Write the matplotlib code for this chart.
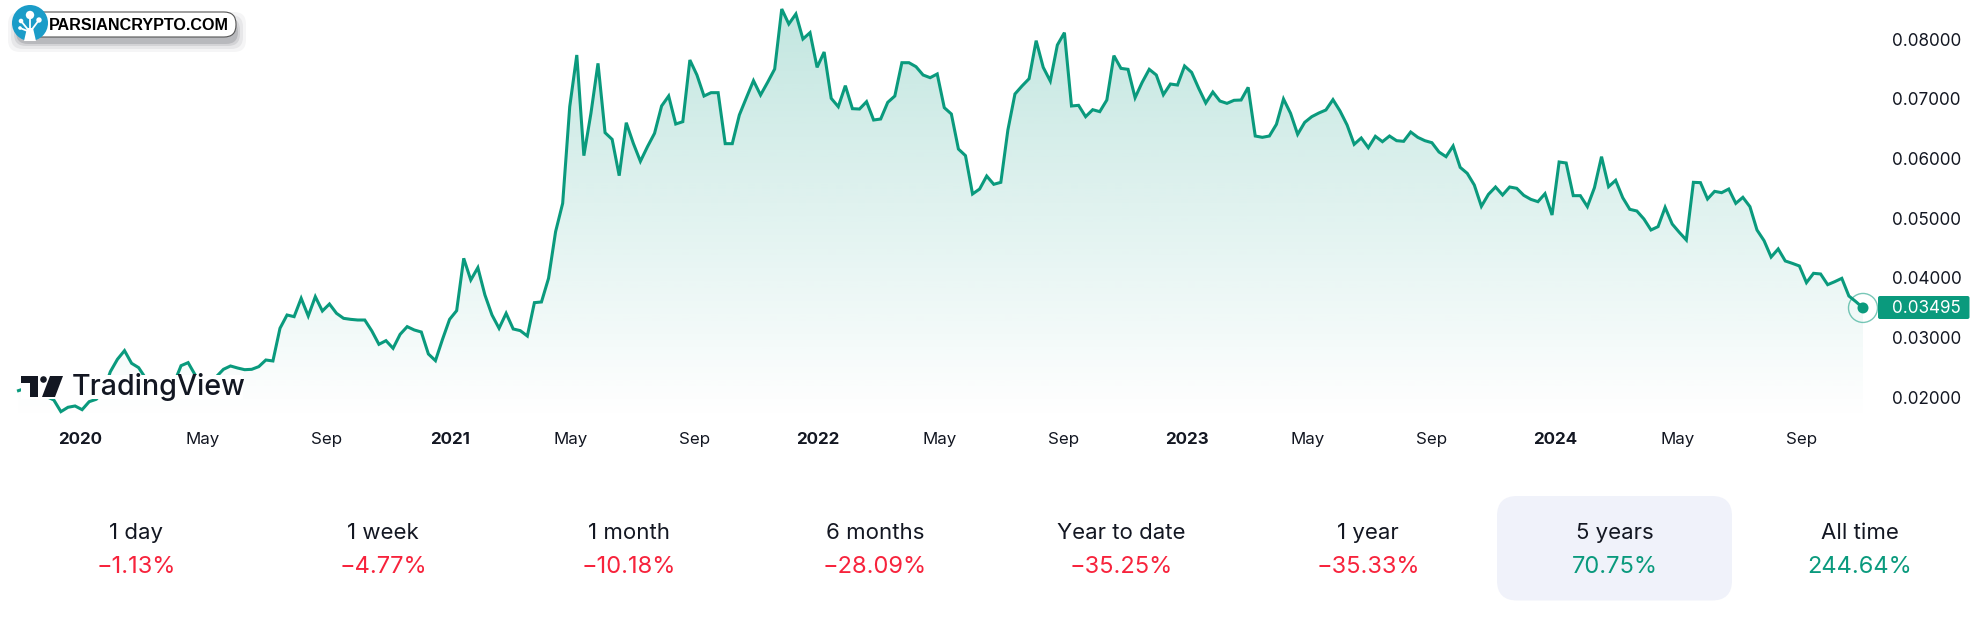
#!/usr/bin/env python3
"""Weekly price chart in the TradingView widget style, with a performance row."""

import numpy as np
import pandas as pd
import matplotlib
matplotlib.use("Agg")
import matplotlib.pyplot as plt
import matplotlib.dates as mdates
from matplotlib.patches import FancyBboxPatch, Circle, Polygon, Rectangle

plt.rcParams['font.family'] = ['Inter', 'DejaVu Sans']

# -----------------------------------------------------------------------------
# Data (units of 1e-5)
# -----------------------------------------------------------------------------
START_DATE = "2019-11-01"
PRICES = [
    2110, 2149, 2093, 2037, 2009, 1953, 1758, 1831, 1853, 1791, 1925, 1965, 2093, 2428, 2635, 2780,
    2568, 2495, 2316, 2149, 2093, 2037, 2233, 2528, 2579, 2372, 2177, 2121, 2344, 2467, 2523, 2489,
    2461, 2467, 2512, 2623, 2607, 3154, 3377, 3349, 3656, 3360, 3684, 3444, 3561, 3405, 3321, 3304,
    3293, 3293, 3109, 2886, 2947, 2819, 3053, 3182, 3126, 3092, 2724, 2612, 2970, 3304, 3450, 4326,
    3963, 4170, 3712, 3377, 3154, 3405, 3143, 3115, 3025, 3584, 3595, 3991, 4773, 5247, 6866, 7732,
    6046, 6755, 7592, 6431, 6319, 5711, 6598, 6252, 5951, 6196, 6420, 6878, 7045, 6576, 6615, 7648,
    7397, 7045, 7101, 7101, 6247, 6247, 6727, 7017, 7302, 7062, 7274, 7497, 8502, 8251, 8419, 8000,
    8106, 7525, 7782, 7006, 6866, 7218, 6833, 6827, 6950, 6643, 6660, 6939, 7045, 7603, 7603, 7536,
    7397, 7352, 7414, 6850, 6744, 6157, 6046, 5404, 5487, 5705, 5566, 5599, 6476, 7079, 7213, 7335,
    7972, 7525, 7296, 7899, 8106, 6878, 6889, 6699, 6816, 6783, 6978, 7721, 7508, 7492, 7017, 7274,
    7492, 7397, 7067, 7246, 7229, 7548, 7441, 7174, 6928, 7112, 6961, 6922, 6973, 6978, 7190, 6375,
    6353, 6375, 6571, 6995, 6755, 6403, 6604, 6699, 6760, 6811, 6984, 6794, 6559, 6236, 6342, 6180,
    6370, 6280, 6375, 6297, 6286, 6442, 6353, 6297, 6263, 6107, 6029, 6208, 5850, 5750, 5554, 5197,
    5398, 5521, 5387, 5521, 5499, 5381, 5314, 5275, 5409, 5052, 5940, 5923, 5376, 5376, 5192, 5510,
    6029, 5526, 5633, 5342, 5147, 5119, 4985, 4801, 4857, 5180, 4901, 4762, 4633, 5599, 5594, 5320,
    5448, 5426, 5487, 5247, 5348, 5192, 4801, 4622, 4348, 4483, 4282, 4242, 4198, 3919, 4075, 4064,
    3885, 3935, 3991, 3695, 3600, 3495,
]
LAST_PRICE = 0.03495

X_TICK_DATES = ["2020-01-01", "2020-05-01", "2020-09-01", "2021-01-01", "2021-05-01", "2021-09-01",
                "2022-01-01", "2022-05-01", "2022-09-01", "2023-01-01", "2023-05-01", "2023-09-01",
                "2024-01-01", "2024-05-01", "2024-09-01"]
X_TICK_LABELS = ["2020", "May", "Sep", "2021", "May", "Sep", "2022", "May", "Sep",
                 "2023", "May", "Sep", "2024", "May", "Sep"]
Y_TICKS = [0.02, 0.03, 0.04, 0.05, 0.06, 0.07, 0.08]

PERIODS = ["1 day", "1 week", "1 month", "6 months", "Year to date", "1 year", "5 years", "All time"]
CHANGES = ["\u22121.13%", "\u22124.77%", "\u221210.18%", "\u221228.09%", "\u221235.25%", "\u221235.33%", "70.75%", "244.64%"]
PERIOD_CENTERS = [136, 383, 629, 875, 1121, 1368, 1615, 1860]

GREEN = '#0a9a7d'
RED = '#f7233c'
DARK = '#131722'

W, H = 1987, 636


def px_axes(fig, left, top, right, bottom, **kw):
    return fig.add_axes([left / W, 1 - bottom / H, (right - left) / W, (bottom - top) / H], **kw)


def main():
    fig = plt.figure(figsize=(W / 100, H / 100), dpi=100, facecolor='white')

    # Chart pane: y runs 5970 px per unit, 0.08 sits at 39 px from the top
    ax_top, ax_bottom, ax_right = 0, 420, 1878
    ax = px_axes(fig, 0, ax_top, ax_right, ax_bottom)
    dates = pd.date_range(START_DATE, periods=len(PRICES), freq='7D')
    xs = mdates.date2num(dates)
    ys = np.array(PRICES) / 1e5

    step = (xs[-1] - xs[0]) / (1863 - 18.5)
    xlim = (xs[0] - 18.5 * step, xs[0] + (ax_right - 18.5) * step)
    ylim = (0.08 - (ax_bottom - 39) / 5970, 0.08 + 39 / 5970)

    # Area gradient clipped under the line
    fill = ax.fill_between(xs, ys, ylim[0], color='none')
    rgba = np.zeros((256, 1, 4))
    rgba[:, :, :3] = matplotlib.colors.to_rgb('#089981')
    rgba[:, 0, 3] = np.linspace(0.25, 0.0, 256)
    im = ax.imshow(rgba, extent=(xlim[0], xlim[1], ylim[0], ylim[1]), origin='upper',
                   aspect='auto', interpolation='bilinear', zorder=1)
    im.set_clip_path(fill.get_paths()[0], transform=ax.transData)

    ax.plot(xs, ys, color=GREEN, lw=2.2, solid_joinstyle='miter', zorder=3)
    ax.set_xlim(xlim)
    ax.set_ylim(ylim)

    ax.set_xticks(mdates.date2num(pd.to_datetime(X_TICK_DATES)))
    ax.set_xticklabels(X_TICK_LABELS, fontsize=12.2, color=DARK)
    for lab in ax.get_xticklabels():
        if lab.get_text().startswith('20'):
            lab.set_fontweight('bold')
    ax.tick_params(axis='x', length=0, pad=8.5)

    ax.yaxis.tick_right()
    ax.set_yticks(Y_TICKS)
    ax.set_yticklabels([f"{v:.5f}" for v in Y_TICKS], fontsize=12.3, color=DARK)
    ax.tick_params(axis='y', length=0, pad=10)
    for s in ax.spines.values():
        s.set_visible(False)
    ax.patch.set_alpha(0)

    # Overlay in pixel coordinates for the widget furniture
    ov = px_axes(fig, 0, 0, W, H)
    ov.set_xlim(0, W)
    ov.set_ylim(H, 0)
    ov.axis('off')
    ov.patch.set_alpha(0)

    # Last price marker and tag
    last_x = 1863
    last_y = 39 + (0.08 - LAST_PRICE) * 5970
    ov.add_patch(Circle((last_x, last_y), 14.5, fc='none', ec=GREEN, lw=1.0, alpha=0.55))
    ov.add_patch(Circle((last_x, last_y), 5.5, fc=GREEN, ec='none'))
    ov.add_patch(FancyBboxPatch((1878, 296), 91.5, 23, boxstyle="round,pad=0,rounding_size=2",
                                fc=GREEN, ec='none'))
    ov.text(1926, last_y + 0.5, f"{LAST_PRICE:.5f}", color='white', fontsize=12.3, ha='center', va='center')

    # TradingView watermark, the white block hides the line behind it
    ov.add_patch(Rectangle((21, 375), 222, 24, fc='white', ec='none'))
    ov.add_patch(Polygon([(21, 376), (38, 376), (38, 397), (30, 397), (30, 383), (21, 383)],
                         fc=DARK, ec='none'))
    ov.add_patch(Circle((43.5, 379.5), 3.3, fc=DARK, ec='none'))
    ov.add_patch(Polygon([(50, 376), (63, 376), (55, 397), (42, 397)], fc=DARK, ec='none'))
    ov.text(72, 387, "TradingView", fontsize=20.6, fontweight='medium', color=DARK, ha='left', va='center')

    # Site badge with soft shadow
    for grow, a in [(10, 0.06), (7, 0.09), (4, 0.14), (2, 0.22)]:
        ov.add_patch(FancyBboxPatch((18 - grow, 22 - grow), 218 + 2 * grow, 20 + 2 * grow,
                                    boxstyle="round,pad=0,rounding_size=12",
                                    fc='#5c6066', ec='none', alpha=a))
    ov.add_patch(FancyBboxPatch((30, 12), 206, 25, boxstyle="round,pad=0,rounding_size=12",
                                fc='white', ec='#555555', lw=0.8))
    ov.add_patch(Circle((30, 23), 18, fc='#1b9cc8', ec='none'))
    for cx, cy, r in [(30, 15, 4.2), (21, 21, 2.3), (39, 20, 2.7), (20, 28, 1.8)]:
        ov.add_patch(Circle((cx, cy), r, fc='white', ec='none'))
    for bx, by in [(30, 15), (21, 21), (39, 20), (20, 28)]:
        ov.plot([30, bx], [32, by], color='white', lw=1.3)
    ov.add_patch(Polygon([(27, 28), (33, 28), (36, 41), (24, 41)], fc='white', ec='none'))
    ov.text(49, 25, "PARSIANCRYPTO.COM", fontsize=11.6, family='Liberation Sans', fontweight='bold',
            color='black', ha='left', va='center')

    # Performance row
    ov.add_patch(FancyBboxPatch((1497, 496), 235, 104.5, boxstyle="round,pad=0,rounding_size=20",
                                fc='#f0f2fa', ec='none'))
    for cx, period, change in zip(PERIOD_CENTERS, PERIODS, CHANGES):
        ov.text(cx, 533, period, fontsize=16, color=DARK, ha='center', va='center')
        ov.text(cx, 567, change, fontsize=17, color=RED if change[0] == '\u2212' else GREEN,
                ha='center', va='center')

    ov.set_xlim(0, W)
    ov.set_ylim(H, 0)
    fig.savefig("out.png", dpi=100)
    plt.close(fig)


if __name__ == "__main__":
    main()
